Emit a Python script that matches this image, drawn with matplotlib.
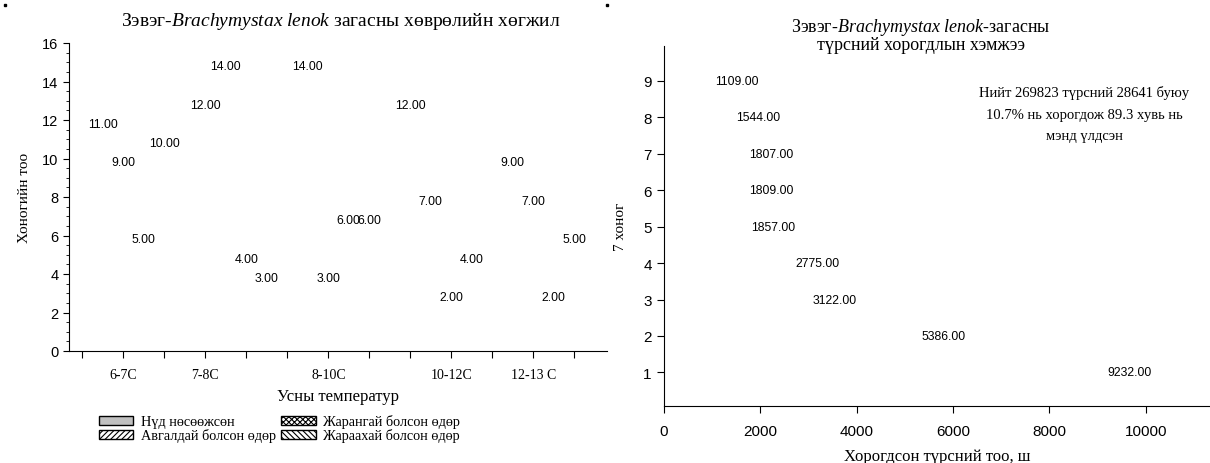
import numpy as np
import matplotlib
matplotlib.use('Agg')
import matplotlib.pyplot as plt
from matplotlib.patches import Patch
from matplotlib.lines import Line2D
from matplotlib.ticker import MultipleLocator

# Зүүн график: хөврөлийн хөгжил (хоногоор)
temps = ['6-7C', '7-8C', '8-10C', '10-12C', '12-13 C']
series_names = ['Нүд нөсөөжсөн', 'Авгалдай болсон өдөр',
                'Жарангай болсон өдөр', 'Жараахай болсон өдөр']
nud = [11, 12, 14, 12, 9]
avgaldai = [9, 14, 3, 7, 7]
jarangai = [5, 4, 6, 2, 2]
jaraakhai = [10, 3, 6, 4, 5]

# Баруун график: түрсний хорогдол
weeks = [9, 8, 7, 6, 5, 4, 3, 2, 1]
dead = [1109, 1544, 1807, 1809, 1857, 2775, 3122, 5386, 9232]

SERIF = ['Liberation Serif', 'DejaVu Serif']
SANS = ['Liberation Sans', 'DejaVu Sans']
plt.rcParams['font.family'] = SANS
plt.rcParams['mathtext.fontset'] = 'custom'
plt.rcParams['mathtext.rm'] = 'Liberation Serif'
plt.rcParams['mathtext.it'] = 'Liberation Serif:italic'
plt.rcParams['hatch.linewidth'] = 0.8

W, H = 1210, 464
fig = plt.figure(figsize=(W / 100, H / 100), dpi=100)

# ---- зүүн ----
ax1 = fig.add_axes([68.9 / W, 1 - 352 / H, (607 - 68.9) / W, (352 - 44) / H])
groups = [nud, avgaldai, jarangai, jaraakhai]
for i, vals in enumerate(groups):
    xs = np.arange(len(temps)) * 5 + i
    ax1.bar(xs, vals, width=1, color='none', edgecolor='none')
    for x, v in zip(xs, vals):
        ax1.annotate(f'{v:.2f}', (x, v), xytext=(0, 11), textcoords='offset points',
                     ha='center', va='center', fontsize=8.8)

ax1.set_ylim(0, 16)
ax1.set_xlim(-1.66, 24.6)
ax1.yaxis.set_major_locator(MultipleLocator(2))
ax1.yaxis.set_minor_locator(MultipleLocator(0.5))
tick_pos = np.arange(-1, 24, 2)
label_pos = {1: temps[0], 5: temps[1], 11: temps[2], 17: temps[3], 21: temps[4]}
ax1.set_xticks(tick_pos)
ax1.set_xticklabels([label_pos.get(t, '') for t in tick_pos], family=SERIF, fontsize=10)
for s in ['top', 'right']:
    ax1.spines[s].set_visible(False)
ax1.tick_params(axis='y', labelsize=10.5, length=4)
ax1.tick_params(axis='y', which='minor', length=2)
ax1.tick_params(axis='x', length=5, pad=7)
ax1.set_xlabel('Усны температур', family=SERIF, fontsize=12, labelpad=5)
ax1.set_ylabel('Хоногийн тоо', family=SERIF, fontsize=11, labelpad=8)

fig.text(341 / W, 1 - 22 / H,
         r'Зэвэг-$Brachymystax\ lenok$ загасны хөврөлийн хөгжил',
         ha='center', va='center', family=SERIF, fontsize=14)

handles = [Patch(facecolor='#c0c0c0', edgecolor='black', label=series_names[0]),
           Patch(facecolor='white', edgecolor='black', hatch='//////', label=series_names[1]),
           Patch(facecolor='white', edgecolor='black', hatch='xxxxxx', label=series_names[2]),
           Patch(facecolor='white', edgecolor='black', hatch='\\\\\\\\\\\\', label=series_names[3])]
fig.legend(handles=handles, ncol=2, loc='upper left', bbox_to_anchor=(92 / W, 1 - 408 / H),
           frameon=False, handlelength=2.4, handleheight=0.6, handletextpad=0.5,
           labelspacing=0.02, columnspacing=0.4, borderpad=0,
           prop={'family': SERIF, 'size': 10.3})

# ---- баруун ----
ax2 = fig.add_axes([663.6 / W, 1 - 407.3 / H, (W - 663.6) / W, (407.3 - 47.3) / H])
ax2.barh(weeks, dead, height=0.8, color='none', edgecolor='none')
for y, v in zip(weeks, dead):
    ax2.text(v - 40, y, f'{v:.2f}', ha='left', va='center', fontsize=8.8)
ax2.set_xlim(0, 11330)
ax2.set_ylim(0.07, 9.95)
ax2.set_yticks(weeks)
ax2.set_xticks(np.arange(0, 10001, 2000))
for s in ['top', 'right']:
    ax2.spines[s].set_visible(False)
ax2.tick_params(labelsize=11, length=5)
ax2.tick_params(axis='x', pad=8)
ax2.set_xlabel('Хорогдсон түрсний тоо, ш', family=SERIF, fontsize=12, labelpad=7)
ax2.set_ylabel('7 хоног', family=SERIF, fontsize=11, labelpad=12)

fig.text(921 / W, 1 - 27 / H, r'Зэвэг-$Brachymystax\ lenok$-загасны',
         ha='center', va='center', family=SERIF, fontsize=13)
fig.text(921 / W, 1 - 45 / H, 'түрсний хорогдлын хэмжээ',
         ha='center', va='center', family=SERIF, fontsize=13)
fig.text(1084 / W, 1 - 115 / H,
         'Нийт 269823 түрсний 28641 буюу\n10.7% нь хорогдож 89.3 хувь нь\nмэнд үлдсэн',
         ha='center', va='center', family=SERIF, fontsize=10.5, linespacing=1.85)

# жижиг цэгүүд (эх зургийн буланд)
for px in (5, 607):
    fig.add_artist(Line2D([px / W], [1 - 6 / H], marker='s', markersize=2,
                          color='black', transform=fig.transFigure))

fig.savefig('out.png', dpi=100)
